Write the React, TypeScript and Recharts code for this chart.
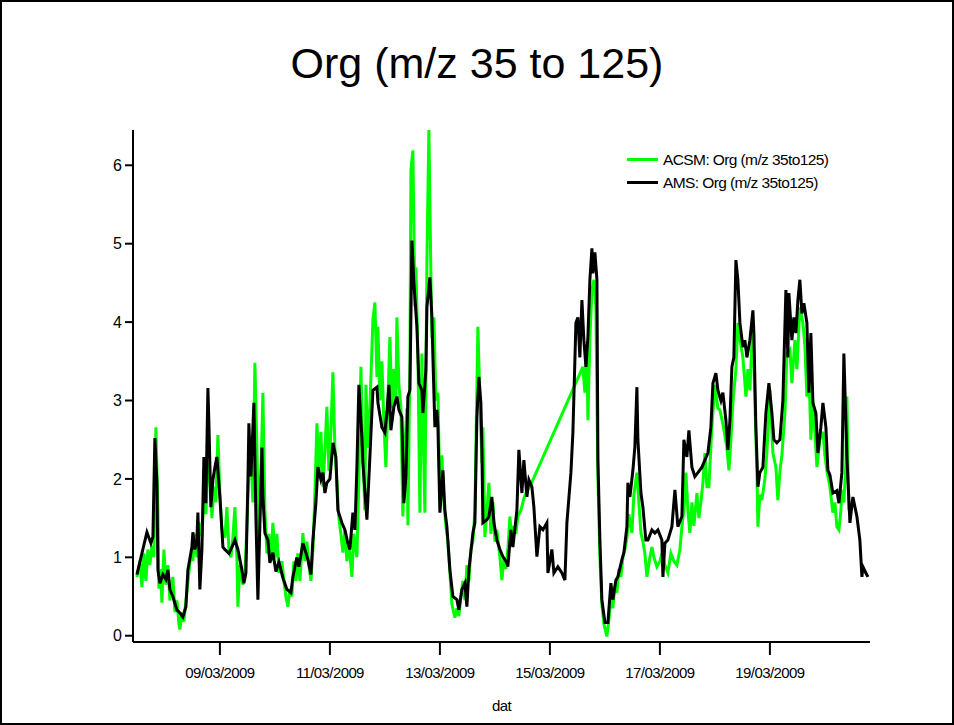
import React from 'react';
import { Line, LineChart, XAxis, YAxis } from 'recharts';

// time in days of March 2009 (e.g. 9.5 = 09/03 12:00)
const amsTime = [
  7.491, 7.673, 7.745, 7.782, 7.818, 7.855, 7.873, 7.909, 7.964, 8.018, 8.055, 8.091, 8.145, 8.218, 8.273, 8.327,
  8.382, 8.418, 8.491, 8.509, 8.545, 8.582, 8.6, 8.636, 8.673, 8.709, 8.745, 8.782, 8.8, 8.836, 8.873, 8.909, 8.945,
  9.0, 9.055, 9.091, 9.164, 9.218, 9.273, 9.327, 9.4, 9.436, 9.473, 9.509, 9.527, 9.564, 9.618, 9.655, 9.691, 9.764,
  9.782, 9.818, 9.873, 9.909, 9.964, 10.018, 10.073, 10.145, 10.218, 10.291, 10.327, 10.4, 10.436, 10.509, 10.545,
  10.6, 10.655, 10.691, 10.745, 10.782, 10.836, 10.873, 10.909, 10.945, 11.0, 11.055, 11.109, 11.145, 11.218, 11.273,
  11.327, 11.364, 11.418, 11.455, 11.491, 11.527, 11.582, 11.6, 11.673, 11.727, 11.782, 11.855, 11.873, 11.945, 12.0,
  12.036, 12.073, 12.109, 12.164, 12.218, 12.255, 12.309, 12.345, 12.382, 12.418, 12.455, 12.491, 12.527, 12.582,
  12.618, 12.673, 12.691, 12.745, 12.764, 12.818, 12.855, 12.873, 12.909, 12.945, 12.964, 13.0, 13.055, 13.091,
  13.127, 13.182, 13.236, 13.309, 13.345, 13.4, 13.455, 13.491, 13.527, 13.6, 13.636, 13.673, 13.709, 13.745, 13.764,
  13.782, 13.855, 13.891, 13.945, 13.982, 14.036, 14.091, 14.145, 14.218, 14.236, 14.291, 14.327, 14.4, 14.436,
  14.491, 14.527, 14.582, 14.618, 14.673, 14.709, 14.764, 14.818, 14.873, 14.945, 14.964, 15.036, 15.073, 15.145,
  15.218, 15.273, 15.309, 15.382, 15.418, 15.473, 15.509, 15.545, 15.582, 15.618, 15.655, 15.691, 15.727, 15.764,
  15.782, 15.818, 15.855, 15.873, 15.909, 15.945, 16.0, 16.055, 16.109, 16.145, 16.2, 16.236, 16.309, 16.345, 16.4,
  16.418, 16.455, 16.509, 16.545, 16.582, 16.6, 16.655, 16.691, 16.745, 16.782, 16.855, 16.909, 16.964, 17.036,
  17.055, 17.091, 17.145, 17.218, 17.273, 17.327, 17.4, 17.436, 17.491, 17.527, 17.582, 17.636, 17.691, 17.764,
  17.818, 17.873, 17.927, 17.964, 18.018, 18.055, 18.109, 18.145, 18.2, 18.236, 18.273, 18.309, 18.345, 18.382,
  18.418, 18.455, 18.509, 18.545, 18.582, 18.636, 18.691, 18.709, 18.745, 18.782, 18.818, 18.873, 18.927, 18.982,
  19.036, 19.073, 19.127, 19.182, 19.236, 19.291, 19.327, 19.345, 19.4, 19.436, 19.473, 19.509, 19.545, 19.582,
  19.618, 19.673, 19.709, 19.745, 19.782, 19.836, 19.873, 19.927, 19.964, 20.018, 20.055, 20.091, 20.145, 20.218,
  20.255, 20.309, 20.345, 20.4, 20.455, 20.509, 20.582, 20.636, 20.673, 20.691, 20.745, 20.782,
];

const amsOrg = [
  0.78, 1.32, 1.18, 1.26, 2.52, 1.95, 0.84, 0.67, 0.78, 0.72, 0.84, 0.59, 0.5, 0.33, 0.29, 0.24,
  0.37, 0.84, 1.13, 1.32, 1.1, 1.22, 1.57, 0.59, 1.1, 2.28, 1.69, 3.16, 2.71, 1.64, 1.99, 2.15, 2.28,
  1.77, 1.13, 1.1, 1.05, 1.13, 1.22, 1.1, 0.84, 0.67, 0.8, 1.95, 2.71, 2.03, 2.97, 1.5, 0.46, 2.4,
  1.77, 1.31, 1.22, 0.93, 1.06, 0.82, 0.94, 0.74, 0.59, 0.55, 0.75, 1.0, 0.88, 1.18, 1.1,
  0.97, 0.78, 1.22, 1.69, 2.15, 1.99, 2.08, 1.82, 1.95, 2.0, 2.46, 2.28, 1.6, 1.44, 1.35,
  1.18, 1.1, 1.57, 1.35, 2.15, 3.2, 2.53, 2.2, 1.48, 2.28, 3.13, 3.17, 2.97, 2.66, 2.59,
  2.85, 3.2, 2.62, 2.92, 3.05, 2.88, 2.79, 1.69, 2.03, 3.05, 3.13, 5.04, 4.5, 3.94,
  3.22, 3.13, 2.84, 3.39, 4.19, 4.57, 4.06, 3.55, 2.66, 2.88, 2.66, 1.57, 2.11, 1.6,
  1.39, 0.84, 0.5, 0.46, 0.33, 0.59, 0.67, 0.37, 0.84, 1.31, 1.44, 2.79, 3.3, 2.97, 2.37,
  1.44, 1.48, 1.52, 1.77, 1.44, 1.22, 1.1, 1.01, 0.93, 0.88, 1.35, 1.13, 1.6, 2.37,
  1.82, 2.24, 1.77, 1.99, 1.9, 1.64, 1.01, 1.39, 1.35, 1.44, 0.8, 1.1, 0.8, 0.88,
  0.8, 0.71, 1.44, 2.08, 2.59, 3.99, 4.06, 3.55, 4.28, 3.77, 3.43, 3.81, 4.54, 4.94,
  4.62, 4.89, 4.54, 2.24, 1.22, 0.46, 0.17, 0.17, 0.67, 0.46, 0.71, 0.75, 0.97, 1.06, 1.39,
  1.95, 1.77, 2.11, 2.41, 3.17, 2.5, 1.82, 1.64, 1.22, 1.22, 1.35, 1.31, 1.35, 1.22,
  0.75, 1.18, 1.22, 1.39, 1.86, 1.39, 1.52, 2.5, 2.28, 2.62, 2.15, 2.03, 2.08, 2.15,
  2.24, 2.33, 2.66, 3.22, 3.35, 3.13, 3.0, 3.1, 2.75, 2.37, 2.75, 3.43, 3.55, 4.79,
  4.54, 3.99, 3.68, 3.77, 3.55, 3.77, 4.15, 3.86, 2.66, 1.9, 2.08, 2.15, 2.84, 3.22,
  2.84, 2.5, 2.46, 2.5, 3.0, 4.41, 3.55, 4.37, 3.77, 4.06, 3.86, 4.28, 4.54, 4.11,
  4.24, 3.99, 3.1, 3.86, 2.97, 2.84, 2.33, 2.66, 2.97, 2.66, 2.11, 2.05, 1.82, 1.85,
  1.69, 2.08, 3.6, 2.28, 1.44, 1.77, 1.52, 1.22, 0.75, 0.88, 0.8, 0.75,
];

const acsmTime = [
  7.491, 7.545, 7.582, 7.618, 7.655, 7.691, 7.727, 7.764, 7.8, 7.836, 7.873, 7.891, 7.927, 7.945, 7.982, 8.018,
  8.055, 8.091, 8.145, 8.182, 8.218, 8.255, 8.273, 8.309, 8.345, 8.382, 8.436, 8.473, 8.509, 8.545, 8.582, 8.618,
  8.673, 8.709, 8.745, 8.782, 8.818, 8.855, 8.891, 8.927, 8.964, 9.0, 9.036, 9.091, 9.127, 9.164, 9.2, 9.236, 9.273,
  9.309, 9.327, 9.364, 9.418, 9.455, 9.491, 9.527, 9.564, 9.6, 9.636, 9.673, 9.709, 9.745, 9.782, 9.818, 9.855,
  9.891, 9.927, 9.964, 10.0, 10.036, 10.073, 10.127, 10.164, 10.2, 10.236, 10.273, 10.309, 10.345, 10.382, 10.418,
  10.455, 10.491, 10.509, 10.545, 10.582, 10.618, 10.655, 10.691, 10.727, 10.764, 10.8, 10.836, 10.873, 10.909,
  10.945, 10.982, 11.018, 11.055, 11.091, 11.127, 11.164, 11.2, 11.236, 11.273, 11.309, 11.345, 11.4, 11.436,
  11.491, 11.527, 11.564, 11.6, 11.636, 11.655, 11.691, 11.727, 11.782, 11.818, 11.855, 11.873, 11.909, 11.945,
  11.982, 12.018, 12.055, 12.091, 12.127, 12.164, 12.2, 12.218, 12.255, 12.291, 12.327, 12.364, 12.4, 12.418,
  12.455, 12.473, 12.509, 12.545, 12.564, 12.6, 12.636, 12.673, 12.691, 12.727, 12.764, 12.8, 12.836, 12.855,
  12.891, 12.927, 12.964, 13.0, 13.036, 13.073, 13.109, 13.145, 13.182, 13.218, 13.273, 13.309, 13.345, 13.382,
  13.418, 13.455, 13.491, 13.527, 13.564, 13.6, 13.636, 13.691, 13.727, 13.764, 13.782, 13.818, 13.855, 13.891,
  13.927, 13.964, 14.0, 14.036, 14.091, 14.127, 14.164, 14.2, 14.236, 14.273, 14.309, 14.345, 14.382, 14.418,
  14.473, 14.527, 14.582, 14.636,
  15.6, 15.636, 15.673, 15.691, 15.727, 15.764, 15.8, 15.836, 15.873, 15.909, 15.945, 15.982, 16.036, 16.073,
  16.109, 16.145, 16.182, 16.218, 16.255, 16.291, 16.327, 16.364, 16.4, 16.436, 16.491, 16.527, 16.582, 16.618,
  16.655, 16.691, 16.727, 16.764, 16.818, 16.855, 16.891, 16.945, 17.0, 17.036, 17.091, 17.145, 17.2, 17.255,
  17.309, 17.364, 17.4, 17.436, 17.473, 17.509, 17.545, 17.582, 17.618, 17.673, 17.709, 17.745, 17.782, 17.818,
  17.855, 17.891, 17.945, 18.0, 18.055, 18.091, 18.145, 18.218, 18.255, 18.291, 18.327, 18.382, 18.418, 18.473,
  18.509, 18.564, 18.6, 18.636, 18.691, 18.727, 18.764, 18.782, 18.818, 18.855, 18.909, 18.945, 19.0, 19.055,
  19.109, 19.145, 19.182, 19.218, 19.273, 19.309, 19.364, 19.4, 19.455, 19.491, 19.545, 19.6, 19.636, 19.673,
  19.709, 19.745, 19.782, 19.818, 19.855, 19.909, 19.964, 20.0, 20.036, 20.091, 20.145, 20.182, 20.218, 20.255,
  20.291, 20.309, 20.345, 20.382, 20.4, 20.418, 20.436,
];

const acsmOrg = [
  0.75, 0.95, 0.62, 1.05, 0.7, 1.1, 0.9, 1.15, 1.0, 2.66, 1.6, 0.6, 0.85, 0.42, 1.1, 0.65,
  0.9, 0.45, 0.75, 0.3, 0.45, 0.15, 0.08, 0.3, 0.18, 0.45, 0.8, 1.05, 0.95, 1.3, 1.0, 1.45,
  1.26, 1.8, 1.55, 2.2, 2.03, 1.5, 1.9, 1.7, 2.56, 1.8, 1.35, 1.25, 1.64, 1.1, 1.0, 1.25, 1.64,
  1.0, 0.37, 0.9, 0.65, 0.8, 1.4, 2.1, 2.3, 1.7, 3.48, 2.4, 1.2, 2.0, 3.1, 1.6, 1.05,
  1.3, 0.95, 1.44, 1.0, 1.3, 0.8, 0.95, 0.7, 0.5, 0.37, 0.6, 0.5, 0.95, 0.7, 1.05,
  0.7, 1.1, 1.31, 0.95, 1.2, 0.9, 0.7, 1.1, 1.8, 2.71, 2.1, 2.6, 1.9, 2.35,
  2.92, 2.1, 2.6, 3.36, 2.4, 1.95, 1.5, 1.3, 1.06, 1.35, 0.95, 1.2, 0.75, 1.3,
  1.0, 2.0, 3.43, 2.3, 1.6, 3.2, 2.4, 2.9, 4.03, 4.25, 3.3, 3.94, 3.0, 3.5,
  2.7, 2.15, 3.0, 3.81, 2.9, 3.4, 3.0, 4.06, 3.2, 2.9, 1.52, 2.4, 2.9, 1.41,
  3.5, 5.94, 6.19, 4.2, 4.7, 3.6, 1.57, 3.6, 2.8, 1.57, 4.79, 6.45, 4.62, 3.8,
  4.06, 3.0, 3.1, 1.8, 2.3, 1.7, 1.4, 1.2, 0.8, 0.4, 0.23, 0.35, 0.25, 0.5,
  0.7, 0.45, 0.9, 0.7, 1.1, 1.2, 1.6, 3.94, 3.0, 2.2, 2.66, 1.26, 1.6, 1.95,
  1.3, 1.7, 1.2, 1.35, 1.0, 0.71, 1.0, 0.85, 1.1, 1.52, 1.2, 1.4, 1.3, 1.52,
  1.6, 1.75, 1.85, 1.9,
  3.43, 3.1, 3.7, 2.75, 3.8, 4.4, 4.54, 4.2, 2.0, 1.0, 0.4, 0.15, -0.01, 0.2,
  0.5, 0.35, 0.65, 0.55, 0.85, 0.75, 1.0, 1.1, 1.25, 1.55, 1.31, 1.8, 2.08, 1.7,
  1.31, 1.2, 1.05, 0.75, 1.0, 1.13, 1.0, 0.88, 0.95, 1.05, 0.9, 0.8, 1.05, 0.95,
  0.9, 1.1, 1.39, 1.6, 2.08, 1.6, 1.31, 1.7, 1.4, 1.82, 1.5, 1.7, 1.95, 2.33,
  1.9, 1.9, 2.66, 3.2, 2.9, 2.88, 2.7, 2.4, 2.11, 2.5, 2.97, 3.4, 3.99, 3.7,
  3.55, 3.05, 3.4, 3.13, 4.03, 3.0, 2.08, 1.39, 1.8, 1.73, 2.0, 2.33, 3.13, 2.33,
  2.15, 1.73, 2.1, 2.3, 2.84, 3.6, 3.65, 3.22, 3.77, 3.4, 4.19, 3.99, 3.7, 3.05,
  3.4, 2.5, 3.0, 2.6, 2.15, 2.5, 2.6, 2.3, 2.1, 1.9, 1.57, 1.7, 1.39, 1.35,
  1.6, 1.86, 1.7, 2.2, 3.05, 2.2, 1.6,
];

const xTicks = [9, 11, 13, 15, 17, 19];
const yTicks = [0, 1, 2, 3, 4, 5, 6];

const amsData = amsTime.map((t, i) => ({ t, v: amsOrg[i] }));
const acsmData = acsmTime.map((t, i) => ({ t, v: acsmOrg[i] }));

const FONT = '"Liberation Sans", Arial, sans-serif';

const fmtDate = (t: number) => `${String(Math.floor(t)).padStart(2, '0')}/03/2009`;

const LEGEND = [
  { label: 'ACSM: Org (m/z 35to125)', color: '#00ff00' },
  { label: 'AMS: Org (m/z 35to125)', color: '#000000' },
];

function LegendBox() {
  return (
    <div
      style={{
        position: 'absolute',
        left: 625,
        top: 146,
        fontFamily: FONT,
        fontSize: 15.5,
        letterSpacing: -0.6,
        lineHeight: '23px',
      }}
    >
      {LEGEND.map((item) => (
        <div key={item.label} style={{ display: 'flex', alignItems: 'center' }}>
          <span style={{ display: 'inline-block', width: 31, height: 3, background: item.color, marginRight: 5 }} />
          <span style={{ color: '#000' }}>{item.label}</span>
        </div>
      ))}
    </div>
  );
}

export default function App() {
  return (
    <div
      style={{
        position: 'absolute',
        left: 0,
        top: 0,
        width: 954,
        height: 725,
        boxSizing: 'border-box',
        border: '2px solid #000',
        background: '#fff',
        fontFamily: FONT,
      }}
    >
      <div
        style={{
          position: 'absolute',
          left: -2,
          top: 36,
          width: 954,
          textAlign: 'center',
          fontSize: 43,
          lineHeight: '50px',
          color: '#000',
        }}
      >
        Org (m/z 35 to 125)
      </div>
      <div style={{ position: 'absolute', left: -2, top: -2 }}>
        <LineChart width={954} height={725} margin={{ top: 130, right: 84, bottom: 0, left: 93 }}>
          <XAxis
            dataKey="t"
            type="number"
            domain={[7.42, 20.82]}
            ticks={xTicks}
            tickFormatter={fmtDate}
            allowDataOverflow
            height={83}
            stroke="#000"
            strokeWidth={2}
            tickSize={13}
            tickMargin={12}
            tick={{ fill: '#000', fontSize: 15, letterSpacing: -0.6, fontFamily: FONT }}
            label={{ value: 'dat', position: 'insideBottom', offset: 14, fill: '#000', fontSize: 15, letterSpacing: -0.6, fontFamily: FONT }}
          />
          <YAxis
            type="number"
            domain={[-0.08, 6.45]}
            ticks={yTicks}
            allowDataOverflow
            width={40}
            stroke="#000"
            strokeWidth={2}
            tickSize={8}
            tickMargin={3}
            tick={{ fill: '#000', fontSize: 16, fontFamily: FONT }}
          />
          <Line
            data={acsmData}
            dataKey="v"
            name="ACSM: Org (m/z 35to125)"
            stroke="#00ff00"
            strokeWidth={3}
            dot={false}
            isAnimationActive={false}
            type="linear"
          />
          <Line
            data={amsData}
            dataKey="v"
            name="AMS: Org (m/z 35to125)"
            stroke="#000000"
            strokeWidth={3}
            dot={false}
            isAnimationActive={false}
            type="linear"
          />
        </LineChart>
      </div>
      <LegendBox />
    </div>
  );
}
